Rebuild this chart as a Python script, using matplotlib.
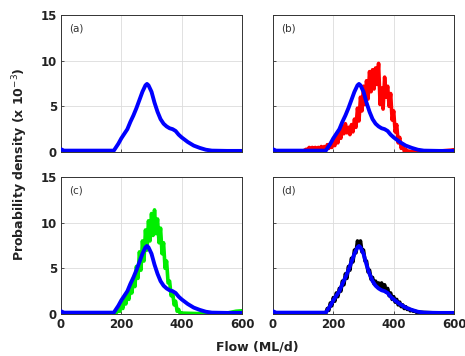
import matplotlib
matplotlib.use("Agg")
import matplotlib.pyplot as plt
import numpy as np

# reference (blue) density curve, same in every panel
blue_x = [0, 10, 100, 175, 190, 200, 210, 220, 230, 240, 250, 260, 270, 280,
          285, 290, 300, 310, 320, 330, 340, 350, 360, 370, 380, 390, 400,
          420, 440, 460, 480, 500, 550, 600]
blue_y = [0.3, 0.15, 0.15, 0.15, 0.9, 1.5, 2.0, 2.5, 3.3, 4.0, 4.8, 5.7, 6.6,
          7.3, 7.45, 7.3, 6.6, 5.4, 4.4, 3.6, 3.1, 2.8, 2.6, 2.5, 2.3, 1.9,
          1.6, 1.1, 0.7, 0.45, 0.25, 0.15, 0.12, 0.12]

# (b) red series
red_x = [0, 50] + list(range(100, 465, 5)) + [500, 550, 590, 600]
red_y = [0.05, 0.05,
         0.1, 0.2, 0.3, 0.2, 0.5, 0.2, 0.5, 0.3, 0.5, 0.2, 0.5, 0.3, 0.6, 0.3,
         0.6, 0.3, 0.8, 0.4, 0.9, 0.5, 1.2, 0.7, 1.6, 1.0, 2.2, 1.5, 2.8, 2.0,
         3.1, 2.1, 2.7, 1.9, 3.0, 2.2, 3.6, 2.7, 4.8, 3.4, 6.0, 4.5, 7.2, 5.2,
         7.8, 5.8, 8.8, 6.6, 9.0, 6.9, 9.2, 7.4, 9.7, 5.2, 7.0, 4.7, 8.2, 6.0,
         7.2, 5.0, 6.4, 3.5, 4.5, 2.2, 3.0, 1.0, 1.6, 0.4, 0.8, 0.1, 0.3, 0.05,
         0.1, 0.05, 0.05,
         0.05, 0.1, 0.2, 0.25]

# (c) green series
green_x = [0, 100, 175] + list(range(180, 405, 5)) + [450, 550, 580, 600]
green_y = [0.05, 0.05, 0.05,
           0.05, 0.2, 0.5, 0.3, 1.0, 0.6, 1.6, 1.1, 2.3, 1.6, 3.0, 2.3, 3.9,
           3.0, 5.2, 3.9, 6.8, 4.8, 8.0, 5.8, 9.2, 7.0, 10.2, 8.0, 11.0, 8.6,
           11.4, 8.8, 10.4, 7.8, 9.4, 6.6, 7.8, 5.0, 5.8, 3.4, 3.6, 2.0, 2.4,
           1.0, 1.4, 0.3, 0.5, 0.05, 0.1,
           0.05, 0.1, 0.3, 0.35]

# (d) black series
black_x = [0, 100] + list(range(175, 485, 5)) + [550, 600]
black_y = [0.1, 0.1,
           0.1, 0.6, 0.4, 1.2, 0.9, 1.8, 1.4, 2.3, 1.9, 2.8, 2.5, 3.6, 3.2,
           4.4, 3.9, 5.2, 4.8, 6.1, 5.7, 7.0, 6.7, 8.0, 7.4, 8.0, 6.8, 7.0,
           5.8, 5.8, 4.6, 4.8, 3.8, 4.0, 3.3, 3.6, 3.0, 3.4, 2.8, 3.4, 2.7,
           3.2, 2.4, 2.8, 2.0, 2.3, 1.6, 1.9, 1.3, 1.6, 1.0, 1.3, 0.8, 1.0,
           0.6, 0.8, 0.5, 0.6, 0.35, 0.45, 0.3, 0.35, 0.2, 0.2,
           0.1, 0.1]

panels = [("(a)", None, None), ("(b)", red_x, red_y),
          ("(c)", green_x, green_y), ("(d)", black_x, black_y)]
colors = [None, "#ff0000", "#00ee00", "#000000"]
x_ticks = [0, 200, 400, 600]
y_ticks = [0, 5, 10, 15]


def main():
    fig = plt.figure(figsize=(4.65, 3.56), dpi=100)
    W, H = 465, 356
    lefts = [61, 273]
    tops = [15, 177]
    aw, ah = 181, 137

    for i, (tag, xs, ys) in enumerate(panels):
        r, c = divmod(i, 2)
        ax = fig.add_axes([lefts[c] / W, 1 - (tops[r] + ah) / H, aw / W, ah / H])
        if xs is not None:
            ax.plot(xs, ys, color=colors[i], lw=2.6, zorder=2)
        ax.plot(blue_x, blue_y, color="#0000ff", lw=2.8, zorder=3,
                solid_joinstyle="round", solid_capstyle="round")
        ax.set_xlim(0, 600)
        ax.set_ylim(0, 15)
        ax.set_xticks(x_ticks)
        ax.set_yticks(y_ticks)
        ax.grid(True, color="#dcdcdc", lw=0.6)
        ax.set_axisbelow(True)
        ax.tick_params(direction="in", length=2, width=0.6, colors="#333333",
                       labelsize=8.5, pad=3)
        for lab in ax.get_xticklabels() + ax.get_yticklabels():
            lab.set_fontweight("bold")
            lab.set_color("#222222")
        for sp in ax.spines.values():
            sp.set_linewidth(0.7)
            sp.set_color("#333333")
        if c == 1:
            ax.tick_params(labelleft=False)
        if r == 0:
            ax.tick_params(labelbottom=False)
        ax.text(0.045, 0.9, tag, transform=ax.transAxes, fontsize=7.5,
                color="#333333", va="center")

    fig.text(0.043, 1 - 164.5 / H, "Probability density (x 10$^{-3}$)",
             rotation=90, ha="center", va="center", fontsize=9,
             fontweight="bold", color="#222222")
    fig.text(257.5 / W, 1 - 347 / H, "Flow (ML/d)", ha="center", va="center",
             fontsize=9, fontweight="bold", color="#222222")
    fig.savefig("out.png", dpi=100)


if __name__ == '__main__':
    main()
